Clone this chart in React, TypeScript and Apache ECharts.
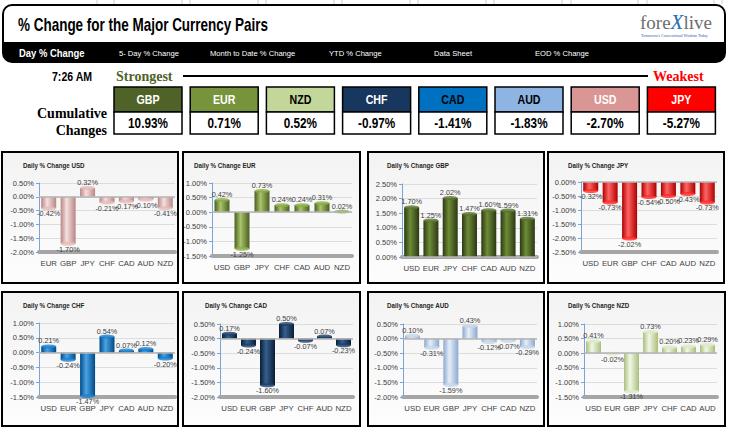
import React, { useEffect, useRef } from 'react';
import * as echarts from 'echarts';

// ---------- DATA ----------
const rankCurrencies = ['GBP', 'EUR', 'NZD', 'CHF', 'CAD', 'AUD', 'USD', 'JPY'];
const cumulativeChanges = [10.93, 0.71, 0.52, -0.97, -1.41, -1.83, -2.7, -5.27];
const navItems = ['Day % Change', '5- Day % Change', 'Month to Date % Change', 'YTD % Change', 'Data Sheet', 'EOD % Change'];
const timeLabel = '7:26 AM';

const usdCats = ['EUR', 'GBP', 'JPY', 'CHF', 'CAD', 'AUD', 'NZD'];
const usdValues = [-0.42, -1.7, 0.32, -0.21, -0.17, -0.1, -0.41];
const eurCats = ['USD', 'GBP', 'JPY', 'CHF', 'CAD', 'AUD', 'NZD'];
const eurValues = [0.42, -1.25, 0.73, 0.24, 0.24, 0.31, 0.02];
const gbpCats = ['USD', 'EUR', 'JPY', 'CHF', 'CAD', 'AUD', 'NZD'];
const gbpValues = [1.7, 1.25, 2.02, 1.47, 1.6, 1.59, 1.31];
const jpyCats = ['USD', 'EUR', 'GBP', 'CHF', 'CAD', 'AUD', 'NZD'];
const jpyValues = [-0.32, -0.73, -2.02, -0.54, -0.5, -0.43, -0.73];
const chfCats = ['USD', 'EUR', 'GBP', 'JPY', 'CAD', 'AUD', 'NZD'];
const chfValues = [0.21, -0.24, -1.47, 0.54, 0.07, 0.12, -0.2];
const cadCats = ['USD', 'EUR', 'GBP', 'JPY', 'CHF', 'AUD', 'NZD'];
const cadValues = [0.17, -0.24, -1.6, 0.5, -0.07, 0.07, -0.23];
const audCats = ['USD', 'EUR', 'GBP', 'JPY', 'CHF', 'CAD', 'NZD'];
const audValues = [0.1, -0.31, -1.59, 0.43, -0.12, -0.07, -0.29];
const nzdCats = ['USD', 'EUR', 'GBP', 'JPY', 'CHF', 'CAD', 'AUD'];
const nzdValues = [0.41, -0.02, -1.31, 0.73, 0.2, 0.23, 0.29];

const panelCurrencies = ['USD', 'EUR', 'GBP', 'JPY', 'CHF', 'CAD', 'AUD', 'NZD'];
const panelCats = [usdCats, eurCats, gbpCats, jpyCats, chfCats, cadCats, audCats, nzdCats];
const panelValues = [usdValues, eurValues, gbpValues, jpyValues, chfValues, cadValues, audValues, nzdValues];
const axisMins = [-2, -1.5, 0, -2.5, -1.5, -2, -2, -1.5];
const axisMaxs = [0.5, 1, 2.5, 0, 1, 0.5, 0.5, 1];
const axisStep = 0.5;

// ---------- LAYOUT / STYLE ----------
const SANS = 'Liberation Sans';
const SERIF = 'Liberation Serif';
const boxHeaderColors = ['#4f6228', '#77933c', '#c4d79b', '#17375e', '#0070c0', '#8db4e2', '#da9694', '#ff0000'];
const boxHeaderText = ['#ffffff', '#ffffff', '#000000', '#ffffff', '#000000', '#000000', '#ffffff', '#ffffff'];
const navX = [19, 119, 210, 329, 434, 535];

const panelBoxes = [
  [2, 152, 176, 131], [183, 152, 177, 131], [368, 152, 176, 131], [548, 152, 176, 131],
  [2, 292, 176, 134], [183, 292, 177, 134], [368, 292, 176, 134], [548, 292, 177, 134],
];
const plotRects = [
  [39, 183, 175, 252], [212, 183, 352, 256], [402, 184, 537, 257], [581, 182, 717, 252],
  [39, 323, 175, 397], [220, 324, 353, 397], [403, 324, 537, 397], [584, 324, 717, 397],
];
const titlePos = [
  [23, 166], [194, 166], [387, 166], [568, 166],
  [23, 306], [205, 306], [387, 306], [568, 306],
];
const barPalettes = [
  { edge: '#b98584', mid: '#f4e0df', cap: '#e6b9b8' },
  { edge: '#4a5e22', mid: '#a9c46a', cap: '#8aae45' },
  { edge: '#2c3815', mid: '#6e8c36', cap: '#5a7430' },
  { edge: '#b00000', mid: '#ff6464', cap: '#ff2a2a' },
  { edge: '#004a85', mid: '#4aa3e6', cap: '#1a7fcf' },
  { edge: '#0b1d33', mid: '#34608f', cap: '#1f406a' },
  { edge: '#8ca9cf', mid: '#e6eef8', cap: '#c6d6ea' },
  { edge: '#a9bf7c', mid: '#f2f7e8', cap: '#dde8c6' },
];

const pct = (v: number) => v.toFixed(2) + '%';

function txt(x: number, y: number, text: string, size: number, opts: any = {}) {
  return {
    type: 'text', x, y, scaleX: opts.scaleX ?? 1, z: opts.z ?? 5,
    style: {
      text, fill: opts.fill ?? '#000', fontSize: size, fontFamily: opts.family ?? SANS,
      fontWeight: opts.weight ?? 'normal', fontStyle: opts.style ?? 'normal',
      align: opts.align ?? 'left', verticalAlign: 'middle',
    },
  };
}

function buildOption() {
  const graphic: any[] = [];

  // excel gridlines at top
  const topLines = [97, 114, 182, 190, 258, 266, 334, 342, 410, 418, 486, 494, 562, 571, 638, 647, 714, 722];
  topLines.forEach((x) => graphic.push({ type: 'line', shape: { x1: x, y1: 0, x2: x, y2: 4 }, style: { stroke: '#cfcfcf', lineWidth: 1 }, z: -20 }));

  // header
  graphic.push({ type: 'rect', shape: { x: 3, y: 5, width: 722, height: 57, r: 9 }, style: { fill: '#ffffff', stroke: '#000', lineWidth: 2 }, z: -10 });
  graphic.push({ type: 'rect', shape: { x: 3, y: 42, width: 722, height: 20, r: [0, 0, 9, 9] }, style: { fill: '#000' }, z: -9 });
  graphic.push(txt(18, 25, '% Change for the Major Currency Pairs', 17.5, { weight: 'bold', scaleX: 0.77 }));
  graphic.push({
    type: 'text', x: 640, y: 22,
    style: {
      text: '{a|fore}{b|X}{a|live}', verticalAlign: 'middle',
      rich: {
        a: { fontFamily: SERIF, fontSize: 19, fill: '#6d6d6d', color: '#6d6d6d' },
        b: { fontFamily: SERIF, fontSize: 21, fontStyle: 'italic', fill: '#1f6fb8', color: '#1f6fb8' },
      },
    },
  });
  graphic.push(txt(641, 35, "Tomorrow's Conventional Wisdom Today", 4, { family: SERIF, fill: '#2a62a8' }));
  navItems.forEach((t, i) => {
    graphic.push(txt(navX[i], 53, t, i === 0 ? 10.5 : 8, { fill: '#fff', weight: i === 0 ? 'bold' : 'normal', scaleX: i === 0 ? 0.9 : 0.95 }));
  });

  // strongest / weakest
  graphic.push(txt(52, 77, timeLabel, 12, { weight: 'bold', scaleX: 0.88 }));
  graphic.push(txt(116, 76, 'Strongest', 14, { family: SERIF, weight: 'bold', fill: '#4f6228' }));
  graphic.push(txt(653, 76, 'Weakest', 14, { family: SERIF, weight: 'bold', fill: '#ff0000' }));
  graphic.push({ type: 'line', shape: { x1: 183, y1: 76, x2: 648, y2: 76 }, style: { stroke: '#000', lineWidth: 2 } });
  graphic.push(txt(107, 113, 'Cumulative', 14, { family: SERIF, weight: 'bold', align: 'right' }));
  graphic.push(txt(107, 130, 'Changes', 14, { family: SERIF, weight: 'bold', align: 'right' }));

  rankCurrencies.forEach((c, i) => {
    const x = 114 + i * 76.2;
    graphic.push({ type: 'rect', shape: { x, y: 87, width: 68, height: 25 }, style: { fill: boxHeaderColors[i], stroke: '#000', lineWidth: 1.5 } });
    graphic.push({ type: 'rect', shape: { x, y: 112, width: 68, height: 22 }, style: { fill: '#fff', stroke: '#000', lineWidth: 1.5 } });
    graphic.push(txt(x + 34, 100, c, 13, { weight: 'bold', align: 'center', fill: boxHeaderText[i], scaleX: 0.82 }));
    graphic.push(txt(x + 34, 123, pct(cumulativeChanges[i]), 14, { weight: 'bold', align: 'center', scaleX: 0.84 }));
  });

  // panels
  panelBoxes.forEach((b) => {
    graphic.push({
      type: 'rect', z: -10,
      shape: { x: b[0], y: b[1], width: b[2], height: b[3] },
      style: {
        fill: { type: 'linear', x: 0, y: 0, x2: 0, y2: 1, colorStops: [{ offset: 0, color: '#f3f3f3' }, { offset: 1, color: '#fdfdfd' }] },
        stroke: '#000', lineWidth: 2,
      },
    });
  });

  const grid: any[] = [];
  const xAxis: any[] = [];
  const yAxis: any[] = [];
  const series: any[] = [];

  panelCurrencies.forEach((cur, i) => {
    const r = plotRects[i];
    const pal = barPalettes[i];
    grid.push({ left: r[0], top: r[1], width: r[2] - r[0], height: r[3] - r[1] });
    graphic.push(txt(titlePos[i][0], titlePos[i][1], 'Daily % Change ' + cur, 8, { weight: 'bold', fill: '#262626', scaleX: 0.78 }));
    xAxis.push({
      type: 'category', gridIndex: i, data: panelCats[i],
      axisLine: { show: true, onZero: false, lineStyle: { color: '#a6a6a6', width: 4 } },
      axisTick: { show: false },
      axisLabel: { interval: 0, hideOverlap: false, fontSize: 7.8, color: '#404040', margin: 7, fontFamily: SANS },
    });
    yAxis.push({
      type: 'value', gridIndex: i, min: axisMins[i], max: axisMaxs[i], interval: axisStep,
      axisLine: { show: true, lineStyle: { color: '#79a4d8', width: 1 } },
      axisTick: { show: true, length: 3, lineStyle: { color: '#79a4d8' } },
      splitLine: { show: true, lineStyle: { color: '#dcdcdc', width: 1 } },
      axisLabel: { fontSize: 7.5, color: '#404040', margin: 5, fontFamily: SANS, formatter: (v: number) => pct(v) },
    });
    series.push({
      type: 'bar', xAxisIndex: i, yAxisIndex: i, barWidth: 15,
      data: panelValues[i].map((v) => ({ value: v, label: { position: v >= 0 ? 'top' : 'bottom' } })),
      itemStyle: {
        color: { type: 'linear', x: 0, y: 0, x2: 1, y2: 0, colorStops: [
          { offset: 0, color: pal.edge }, { offset: 0.4, color: pal.mid }, { offset: 1, color: pal.edge },
        ] },
      },
      label: { show: true, formatter: (p: any) => pct(p.value), fontSize: 7.3, color: '#404040', distance: 2, fontFamily: SANS },
      markLine: {
        silent: true, symbol: 'none', label: { show: false },
        lineStyle: { color: '#b5b5b5', width: 1.5, type: 'solid' },
        data: [{ yAxis: 0 }],
      },
      z: 2,
    });
    series.push({
      type: 'scatter', xAxisIndex: i, yAxisIndex: i, silent: true,
      data: panelValues[i], symbol: 'circle', symbolSize: [15, 4],
      itemStyle: { color: pal.cap }, z: 3,
    });
  });

  return { animation: false, backgroundColor: '#ffffff', grid, xAxis, yAxis, series, graphic: { elements: graphic } };
}

export default function App() {
  const ref = useRef<HTMLDivElement>(null);
  useEffect(() => {
    if (!ref.current) return;
    const chart = echarts.init(ref.current, undefined, { renderer: 'svg' });
    chart.setOption(buildOption() as any);
    return () => chart.dispose();
  }, []);
  return <div ref={ref} style={{ position: 'absolute', left: 0, top: 0, width: 730, height: 434 }} />;
}
